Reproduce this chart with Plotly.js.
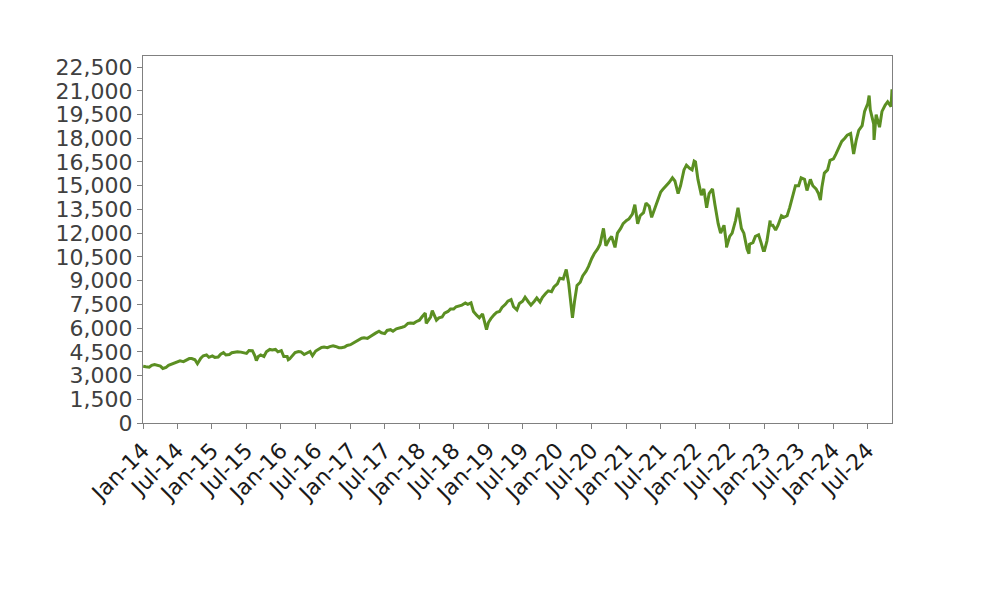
<!DOCTYPE html>
<html>
<head>
<meta charset="utf-8">
<script src="https://cdn.plot.ly/plotly-3.0.1.min.js"></script>
<style>html,body{margin:0;padding:0;background:#fff;}#chart{width:1000px;height:600px;}</style>
</head>
<body>
<div id="chart"></div>
<script>
// Semi-monthly readings (3rd and 16th of each month)
const years = [2014,2015,2016,2017,2018,2019,2020,2021,2022,2023,2024];
const v2014 = [3590,3560, 3530,3650, 3700,3640, 3600,3450, 3520,3640, 3740,3800, 3880,3930, 3880,3980, 4070,4070, 4000,3750, 4100,4250, 4300,4150];
const v2015 = [4240,4150, 4170,4350, 4450,4300, 4330,4440, 4480,4500, 4480,4460, 4400,4580, 4570,4250, 4200,4300, 4200,4500, 4650,4620, 4650,4500];
const v2016 = [4580,4200, 4200,4050, 4300,4450, 4520,4500, 4330,4400, 4520,4250, 4550,4650, 4780,4800, 4760,4830, 4880,4840, 4760,4760, 4800,4900];
const v2017 = [4950,5040, 5170,5300, 5360,5390, 5350,5450, 5600,5680, 5800,5700, 5650,5850, 5900,5800, 5950,5980, 6050,6100, 6300,6320, 6300,6400];
const v2018 = [6500,6700, 6950,6450, 6700,7000, 6500,6650, 6700,6950, 7050,7200, 7200,7350, 7400,7450, 7580,7500, 7600,7050, 6800,6650, 6900,6300];
const v2019 = [6350,6600, 6850,7000, 7050,7300, 7500,7700, 7800,7350, 7150,7550, 7700,7950, 7650,7450, 7700,7900, 7650,7950, 8200,8350, 8300,8600];
const v2020 = [8800,9150, 9100,9550, 8800,7200, 7700,8700, 8900,9300, 9600,9900, 10400,10700, 11000,11300, 12300,11200, 11600,11800, 11100,12000, 12300,12600];
const v2021 = [12800,12900, 13200,13800, 12600,13100, 13300,13900, 13700,13000, 13600,14000, 14600,14800, 15000,15200, 15500,15300, 14500,15000, 16000,16300, 16100,16000];
const v2022 = [16500,15400, 14400,14800, 13600,14500, 14800,13800, 12600,12000, 12500,11300, 11800,12000, 12800,13600, 12300,12000, 11000,11300, 11400,11800, 11900,11400];
const v2023 = [10900,11500, 12500,12500, 12200,12500, 13100,13000, 13100,13600, 14500,15000, 15000,15500, 15400,14700, 15400,15000, 14800,14500, 14900,15800, 16000,16600];
const v2024 = [16700,17000, 17500,17800, 18000,18200, 18300,17400, 17900,18500, 18800,19700, 20200,19800, 18900,19500, 18700,19700, 20100,20300, 20000];
const yearValues = [v2014,v2015,v2016,v2017,v2018,v2019,v2020,v2021,v2022,v2023,v2024];

// Notable extremes
const eventDates  = ['2014-01-02','2015-08-24','2016-02-09','2018-02-08','2018-03-12','2018-12-24','2020-02-19','2020-03-23','2021-12-27','2022-06-16','2022-10-13','2022-12-28','2023-02-02','2023-10-26','2024-04-19','2024-07-10','2024-08-05','2024-11-08'];
const eventValues = [3590,3950,4000,6300,7100,5900,9700,6650,16550,11100,10700,10900,12800,14100,17000,20700,17900,21100];

const tickVals  = ['2014-01-01','2014-07-01','2015-01-01','2015-07-01','2016-01-01','2016-07-01','2017-01-01','2017-07-01','2018-01-01','2018-07-01','2019-01-01','2019-07-01','2020-01-01','2020-07-01','2021-01-01','2021-07-01','2022-01-01','2022-07-01','2023-01-01','2023-07-01','2024-01-01','2024-07-01'];
const tickText  = ['Jan-14','Jul-14','Jan-15','Jul-15','Jan-16','Jul-16','Jan-17','Jul-17','Jan-18','Jul-18','Jan-19','Jul-19','Jan-20','Jul-20','Jan-21','Jul-21','Jan-22','Jul-22','Jan-23','Jul-23','Jan-24','Jul-24'];

const pts = [];
years.forEach((yr, i) => {
  yearValues[i].forEach((v, j) => {
    const m = Math.floor(j / 2) + 1;
    const d = j % 2 === 0 ? '03' : '16';
    pts.push([yr + '-' + String(m).padStart(2, '0') + '-' + d, v]);
  });
});
eventDates.forEach((d, i) => pts.push([d, eventValues[i]]));
pts.sort((a, b) => a[0] < b[0] ? -1 : a[0] > b[0] ? 1 : 0);

const trace = {
  x: pts.map(p => p[0]),
  y: pts.map(p => p[1]),
  type: 'scatter',
  mode: 'lines',
  line: {color: '#5b8f22', width: 3},
  hoverinfo: 'x+y'
};

const layout = {
  width: 1000, height: 600,
  margin: {l: 143, r: 108, t: 56, b: 177},
  paper_bgcolor: '#ffffff', plot_bgcolor: '#ffffff',
  showlegend: false,
  xaxis: {
    type: 'date',
    range: ['2014-01-01', '2024-11-08'],
    tickmode: 'array', tickvals: tickVals, ticktext: tickText,
    tickangle: -45, tickfont: {family: 'DejaVu Sans, sans-serif', size: 22, color: '#1a1a1a'},
    ticks: 'outside', ticklen: 5, tickcolor: '#808080',
    showgrid: false, zeroline: false,
    showline: true, mirror: true, linecolor: '#808080', linewidth: 1
  },
  yaxis: {
    range: [0, 23200],
    tickmode: 'linear', tick0: 0, dtick: 1500,
    tickformat: ',d', tickfont: {family: 'DejaVu Sans, sans-serif', size: 22, color: '#404040'},
    ticks: 'outside', ticklen: 5, tickcolor: '#808080',
    showgrid: false, zeroline: false,
    showline: true, mirror: true, linecolor: '#808080', linewidth: 1
  }
};

Plotly.newPlot('chart', [trace], layout, {displayModeBar: false, staticPlot: true});
</script>
</body>
</html>
